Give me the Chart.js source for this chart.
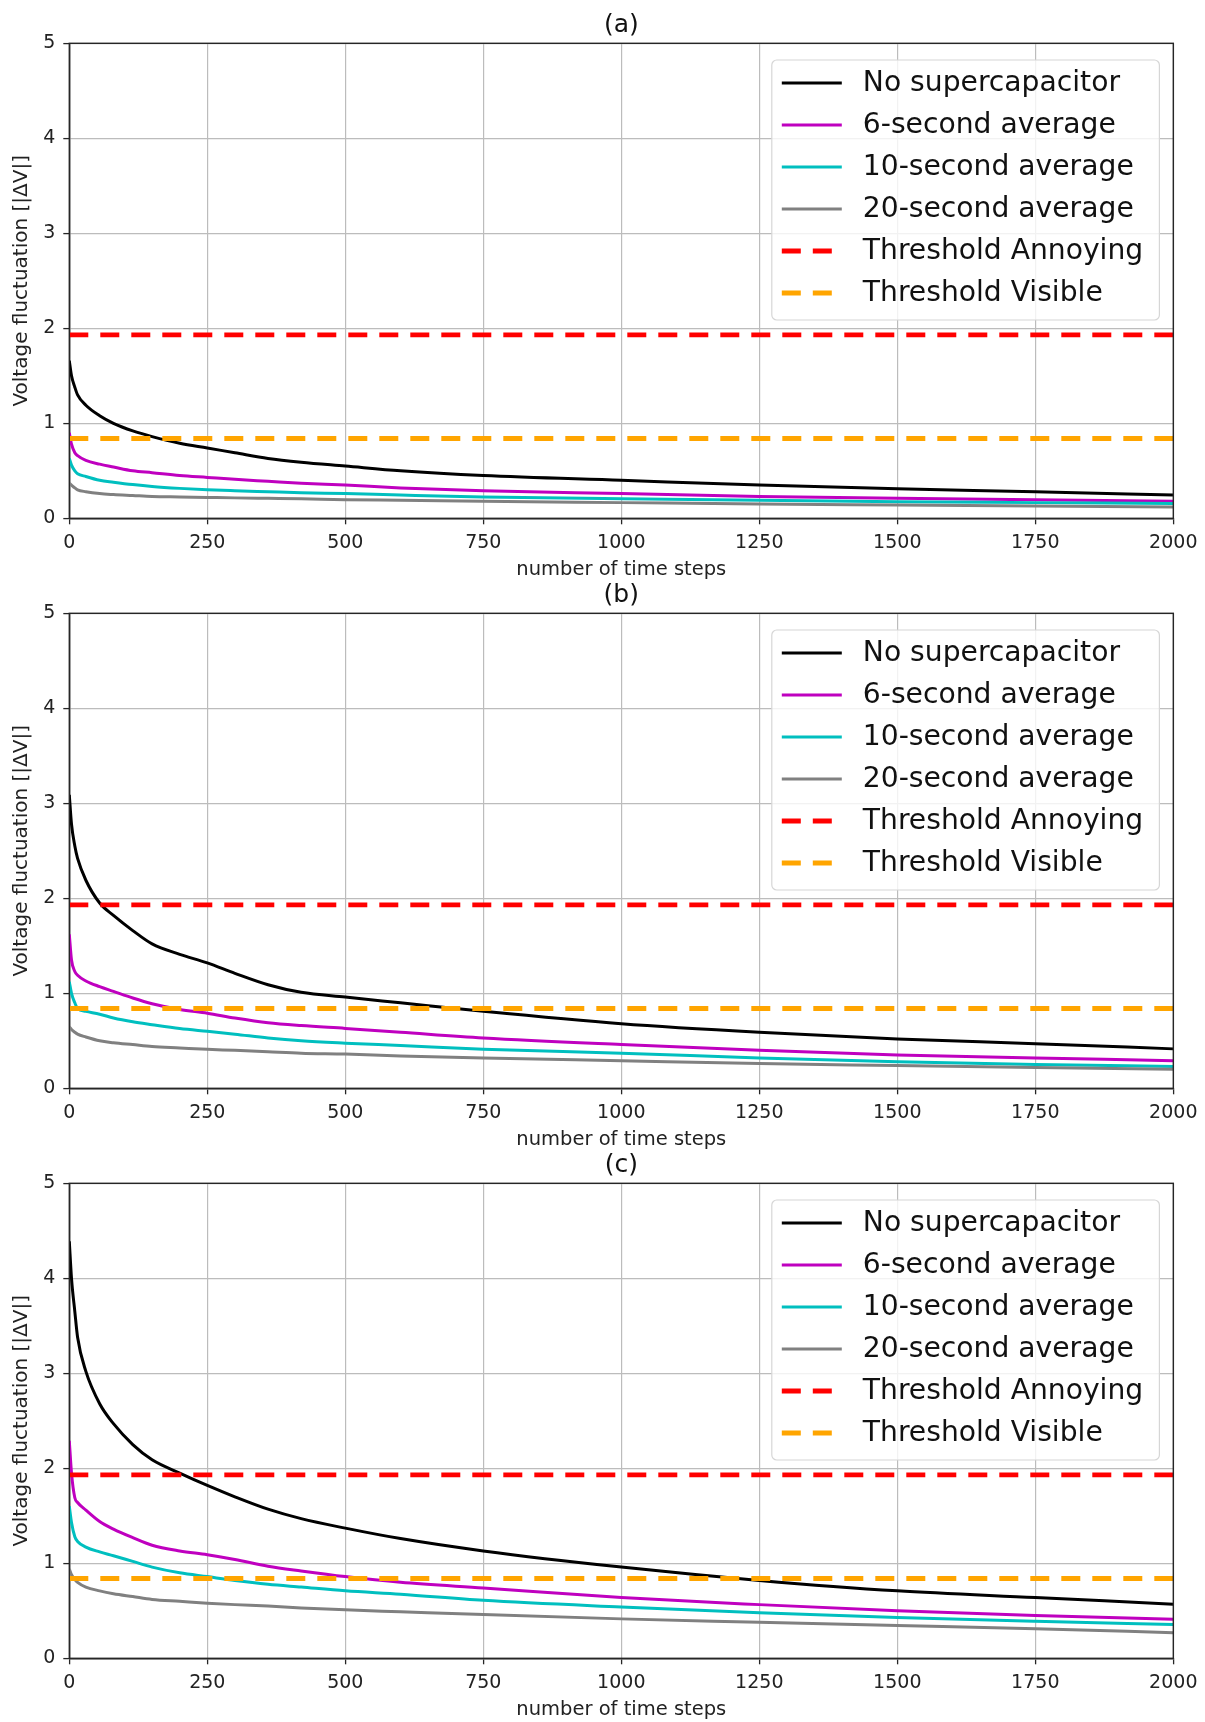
<!DOCTYPE html>
<html><head><meta charset="utf-8">
<script src="https://cdn.jsdelivr.net/npm/chart.js@4.4.1/dist/chart.umd.min.js"></script>
<style>
html,body{margin:0;padding:0;background:#fff;}
#wrap{position:relative;width:1205px;height:1722px;overflow:hidden;background:#fff;}
canvas{position:absolute;left:0;}
</style></head><body>
<div id="wrap">
<canvas id="ca" width="1205" height="582" style="top:0px;width:1205px;height:582px"></canvas>
<canvas id="cb" width="1205" height="582" style="top:570px;width:1205px;height:582px"></canvas>
<canvas id="cc" width="1205" height="582" style="top:1140px;width:1205px;height:582px"></canvas>
</div>
<script>
// ---- data ----
const timeSteps = [0, 4, 10, 15, 30, 55, 80, 115, 150, 200, 250, 300, 360, 420, 500, 600, 750, 1000, 1250, 1500, 1750, 2000];
const seriesLabels = ['No supercapacitor', '6-second average', '10-second average', '20-second average', 'Threshold Annoying', 'Threshold Visible'];
const panelTitles = ['(a)', '(b)', '(c)'];
const xTickValues = [0, 250, 500, 750, 1000, 1250, 1500, 1750, 2000];
const yTickValues = [0, 1, 2, 3, 4, 5];
const thresholdAnnoying = 1.93;
const thresholdVisible = 0.84;

// panel (a)
const aNoCap = [1.66, 1.50, 1.38, 1.30, 1.19, 1.08, 1.00, 0.92, 0.86, 0.79, 0.74, 0.69, 0.63, 0.59, 0.55, 0.50, 0.45, 0.40, 0.35, 0.31, 0.28, 0.245];
const aAvg6 = [0.90, 0.78, 0.69, 0.66, 0.61, 0.57, 0.54, 0.50, 0.48, 0.45, 0.43, 0.41, 0.39, 0.37, 0.35, 0.32, 0.29, 0.26, 0.23, 0.21, 0.195, 0.18];
const aAvg10 = [0.63, 0.56, 0.50, 0.47, 0.44, 0.40, 0.38, 0.355, 0.335, 0.315, 0.30, 0.29, 0.28, 0.27, 0.26, 0.245, 0.225, 0.205, 0.19, 0.175, 0.165, 0.155];
const aAvg20 = [0.37, 0.35, 0.32, 0.30, 0.28, 0.26, 0.25, 0.24, 0.23, 0.225, 0.22, 0.215, 0.21, 0.205, 0.196, 0.19, 0.18, 0.165, 0.15, 0.14, 0.13, 0.12];
// panel (b)
const bNoCap = [3.09, 2.78, 2.55, 2.42, 2.19, 1.95, 1.82, 1.66, 1.52, 1.41, 1.32, 1.21, 1.09, 1.01, 0.96, 0.90, 0.81, 0.68, 0.59, 0.52, 0.47, 0.415];
const bAvg6 = [1.62, 1.35, 1.23, 1.19, 1.13, 1.07, 1.02, 0.95, 0.89, 0.83, 0.79, 0.74, 0.69, 0.66, 0.63, 0.59, 0.53, 0.46, 0.40, 0.35, 0.32, 0.29];
const bAvg10 = [1.12, 1.00, 0.90, 0.84, 0.81, 0.78, 0.74, 0.70, 0.67, 0.63, 0.60, 0.57, 0.53, 0.50, 0.475, 0.45, 0.41, 0.37, 0.32, 0.28, 0.25, 0.23];
const bAvg20 = [0.65, 0.62, 0.59, 0.57, 0.54, 0.50, 0.48, 0.46, 0.44, 0.425, 0.41, 0.40, 0.385, 0.37, 0.36, 0.34, 0.32, 0.29, 0.26, 0.24, 0.22, 0.20];
// panel (c)
const cNoCap = [4.39, 4.00, 3.65, 3.38, 3.02, 2.68, 2.47, 2.25, 2.09, 1.95, 1.82, 1.70, 1.57, 1.47, 1.37, 1.26, 1.13, 0.96, 0.82, 0.71, 0.64, 0.57];
const cAvg6 = [2.29, 1.95, 1.69, 1.64, 1.56, 1.44, 1.36, 1.27, 1.19, 1.13, 1.09, 1.04, 0.97, 0.92, 0.86, 0.80, 0.74, 0.64, 0.565, 0.50, 0.45, 0.41];
const cAvg10 = [1.60, 1.43, 1.28, 1.23, 1.17, 1.12, 1.08, 1.02, 0.96, 0.90, 0.86, 0.82, 0.78, 0.75, 0.71, 0.675, 0.61, 0.54, 0.48, 0.43, 0.39, 0.355];
const cAvg20 = [0.94, 0.88, 0.83, 0.80, 0.75, 0.71, 0.68, 0.65, 0.62, 0.60, 0.58, 0.565, 0.55, 0.53, 0.51, 0.49, 0.46, 0.415, 0.38, 0.345, 0.31, 0.27];

const panels = [
  [aNoCap, aAvg6, aAvg10, aAvg20],
  [bNoCap, bAvg6, bAvg10, bAvg20],
  [cNoCap, cAvg6, cAvg10, cAvg20]
];

// ---- styling ----
const FONT = 'DejaVu Sans';
Chart.defaults.font.family = FONT;
Chart.defaults.color = '#222';
const lineColors = ['#000000', '#bf00bf', '#00bfbf', '#808080', '#ff0000', '#ffa500'];
const DASH = [19, 12];

const frame = {
  id: 'frame',
  afterDraw(chart) {
    const {ctx, chartArea: c} = chart;
    ctx.save();
    ctx.strokeStyle = '#262626';
    ctx.lineWidth = 1.4;
    ctx.strokeRect(c.left, c.top, c.right - c.left, c.bottom - c.top);
    ctx.restore();
  }
};

const panelTitle = {
  id: 'panelTitle',
  afterDraw(chart, args, opts) {
    const {ctx, chartArea: c} = chart;
    ctx.save();
    ctx.font = '25px "' + FONT + '"';
    ctx.fillStyle = '#111';
    ctx.textAlign = 'center';
    ctx.textBaseline = 'middle';
    ctx.fillText(opts.text, (c.left + c.right) / 2, c.top - 18);
    ctx.restore();
  }
};

const boxLegend = {
  id: 'boxLegend',
  afterDraw(chart) {
    const {ctx, chartArea: c} = chart;
    const W = 387.6, H = 260;
    const L = c.right - 13.9 - W, T = c.top + 16.7;
    ctx.save();
    ctx.beginPath();
    ctx.roundRect(L, T, W, H, 5);
    ctx.fillStyle = 'rgba(255,255,255,0.8)';
    ctx.fill();
    ctx.strokeStyle = '#d6d6d6';
    ctx.lineWidth = 1.2;
    ctx.stroke();
    ctx.font = '28.2px "' + FONT + '"';
    ctx.textBaseline = 'middle';
    ctx.textAlign = 'left';
    chart.data.datasets.forEach((ds, i) => {
      const y = T + 23 + i * 42;
      ctx.beginPath();
      ctx.strokeStyle = ds.borderColor;
      ctx.lineWidth = ds.borderWidth;
      ctx.setLineDash(ds.borderDash && ds.borderDash.length ? DASH : []);
      ctx.moveTo(L + 10, y);
      ctx.lineTo(L + 70, y);
      ctx.stroke();
      ctx.setLineDash([]);
      ctx.fillStyle = '#111';
      ctx.fillText(ds.label, L + 91, y + 1);
    });
    ctx.restore();
  }
};

function makeChart(id, idx) {
  const series = panels[idx];
  const datasets = series.map((vals, i) => ({
    label: seriesLabels[i],
    data: timeSteps.map((x, k) => ({x: x, y: vals[k]})),
    borderColor: lineColors[i],
    borderWidth: 3,
    pointRadius: 0,
    cubicInterpolationMode: 'monotone',
    order: 10 - i,
    fill: false
  }));
  [thresholdAnnoying, thresholdVisible].forEach((v, j) => {
    datasets.push({
      label: seriesLabels[4 + j],
      data: [{x: xTickValues[0], y: v}, {x: xTickValues[xTickValues.length - 1], y: v}],
      borderColor: lineColors[4 + j],
      borderWidth: 4.8,
      borderDash: DASH,
      borderCapStyle: 'butt',
      pointRadius: 0,
      order: 2 - j,
      fill: false
    });
  });
  return new Chart(document.getElementById(id), {
    type: 'line',
    data: {datasets},
    plugins: [frame, panelTitle, boxLegend],
    options: {
      responsive: false,
      animation: false,
      devicePixelRatio: 1,
      layout: {padding: {left: 0, top: 43.3, right: 31.7, bottom: 0}},
      plugins: {
        legend: {display: false},
        tooltip: {enabled: false},
        panelTitle: {text: panelTitles[idx]}
      },
      scales: {
        x: {
          type: 'linear',
          min: xTickValues[0],
          max: xTickValues[xTickValues.length - 1],
          afterBuildTicks: (s) => { s.ticks = xTickValues.map(v => ({value: v})); },
          afterFit: (s) => { s.height = 582 - 518.3; },
          ticks: {font: {size: 19}, color: '#222', padding: 7, maxRotation: 0, autoSkip: false,
                  callback: (v) => String(v)},
          grid: {color: '#bcbcbc', lineWidth: 1.2, tickLength: 6, tickColor: '#262626', tickWidth: 1.3},
          border: {color: '#262626', width: 1.4},
          title: {display: true, text: 'number of time steps', font: {size: 19.5}, color: '#222', padding: {top: 0, bottom: 0}}
        },
        y: {
          type: 'linear',
          min: yTickValues[0],
          max: yTickValues[yTickValues.length - 1],
          afterBuildTicks: (s) => { s.ticks = yTickValues.map(v => ({value: v})); },
          afterFit: (s) => { s.width = 69.3; },
          ticks: {font: {size: 19}, color: '#222', padding: 8, callback: (v) => String(v)},
          grid: {color: '#bcbcbc', lineWidth: 1.2, tickLength: 6, tickColor: '#262626', tickWidth: 1.3},
          border: {color: '#262626', width: 1.4},
          title: {display: true, text: 'Voltage fluctuation [|ΔV|]', font: {size: 20}, color: '#222', padding: {top: 10, bottom: 0}}
        }
      }
    }
  });
}

makeChart('ca', 0);
makeChart('cb', 1);
makeChart('cc', 2);
</script>
</body></html>
